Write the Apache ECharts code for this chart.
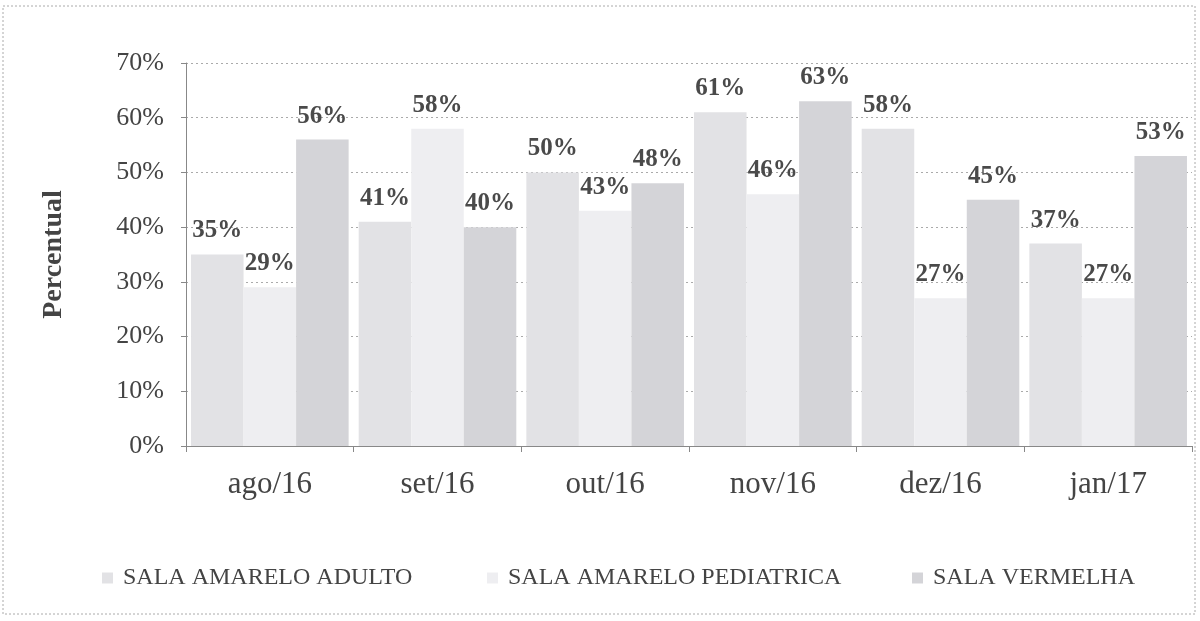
<!DOCTYPE html>
<html><head><meta charset="utf-8">
<script src="https://cdn.jsdelivr.net/npm/echarts@6/dist/echarts.min.js"></script>
<style>html,body{margin:0;padding:0;background:#fff}#c{width:1200px;height:621px}</style>
</head><body><div id="c"></div>
<script>
const categories = ['ago/16','set/16','out/16','nov/16','dez/16','jan/17'];
const seriesNames = ['SALA AMARELO ADULTO','SALA AMARELO PEDIATRICA','SALA VERMELHA'];
const adulto = [35,41,50,61,58,37];
const pediatrica = [29,58,43,46,27,27];
const vermelha = [56,40,48,63,45,53];
const yTicks = [0,10,20,30,40,50,60,70];

const colors = ['#e2e2e5','#eeeef1','#d4d4d8'];
const serif = 'Liberation Serif';
const chart = echarts.init(document.getElementById('c'));
const data = [adulto, pediatrica, vermelha];
const legendX = [102, 487, 912];
chart.setOption({
  animation:false,
  backgroundColor:'#fff',
  textStyle:{fontFamily:serif},
  graphic:[{type:'rect',shape:{x:3,y:6,width:1192,height:608},style:{fill:'none',stroke:'#aaa',lineWidth:1,lineDash:[2,2]}}],
  legend: seriesNames.map((n,i)=>({
    data:[n], left:legendX[i], top:566, itemWidth:11, itemHeight:11, itemGap:6, padding:0,
    icon:'rect', textStyle:{fontFamily:serif,fontSize:24,color:'#444',padding:[0,0,0,5]}
  })),
  grid:{left:186,right:8,top:63,bottom:175},
  xAxis:{type:'category',data:categories,
    axisLine:{lineStyle:{color:'#888'}},
    axisTick:{show:true,length:6,lineStyle:{color:'#888'}},
    axisLabel:{fontFamily:serif,fontSize:31,color:'#444',margin:23}},
  yAxis:{type:'value',min:0,max:70,interval:10,
    name:'Percentual',nameLocation:'middle',nameGap:118,nameRotate:90,
    nameTextStyle:{fontFamily:serif,fontSize:28,fontWeight:'bold',color:'#444'},
    axisLine:{show:true,lineStyle:{color:'#888'}},
    axisTick:{show:true,length:5,lineStyle:{color:'#888'}},
    splitLine:{lineStyle:{color:'#aaa',type:[2,3]}},
    axisLabel:{fontFamily:serif,fontSize:26,color:'#444',margin:22,
      formatter:v=>yTicks.includes(v)?v+'%':''}},
  series: seriesNames.map((n,i)=>({
    name:n,type:'bar',data:data[i],barGap:'0%',barCategoryGap:'6%',
    itemStyle:{color:colors[i]},
    label:{show:true,position:'top',distance:11,formatter:'{c}%',
      fontFamily:serif,fontSize:25,fontWeight:'bold',color:'#4a4a4a'}
  }))
});
</script></body></html>
